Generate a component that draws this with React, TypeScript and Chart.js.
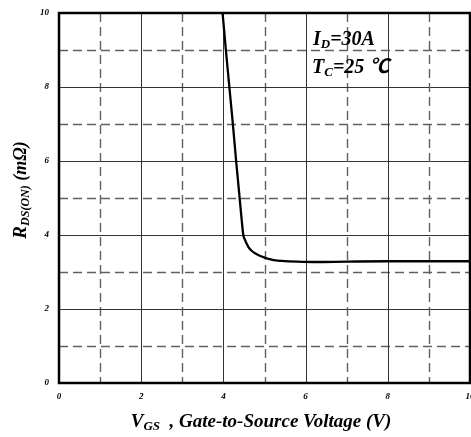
import React, { useEffect, useRef } from "react";
import { Chart, registerables } from "chart.js";

Chart.register(...registerables);

const vgs = [3.98, 4.06, 4.145, 4.23, 4.31, 4.395, 4.445, 4.484, 4.52, 4.56, 4.606, 4.68, 4.769, 4.87, 4.971, 5.1, 5.214, 5.418, 5.8, 6.2, 7.0, 8.0, 9.0, 10.0];
const rds = [10.0, 9.0, 8.0, 7.0, 6.0, 5.0, 4.41, 4.0, 3.88, 3.78, 3.68, 3.58, 3.505, 3.445, 3.4, 3.355, 3.32, 3.3, 3.28, 3.27, 3.28, 3.29, 3.29, 3.29];
const xTicks = [0, 2, 4, 6, 8, 10];
const yTicks = [0, 2, 4, 6, 8, 10];
const gridValues = [1, 2, 3, 4, 5, 6, 7, 8, 9];

const FAMILY = "'Liberation Serif', 'Times New Roman', 'Noto Sans CJK SC', serif";

type Seg = { text: string; size: number; dy: number };

function drawRich(ctx: CanvasRenderingContext2D, segs: Seg[], x: number, y: number, align: "left" | "center") {
  let total = 0;
  for (const s of segs) {
    ctx.font = `bold italic ${s.size}px ${FAMILY}`;
    total += ctx.measureText(s.text).width;
  }
  let cx = align === "center" ? x - total / 2 : x;
  ctx.textAlign = "left";
  ctx.textBaseline = "alphabetic";
  for (const s of segs) {
    ctx.font = `bold italic ${s.size}px ${FAMILY}`;
    ctx.fillText(s.text, cx, y + s.dy);
    cx += ctx.measureText(s.text).width;
  }
}

const customPlugin = {
  id: "custom",
  beforeDatasetsDraw(chart: any) {
    const ctx = chart.ctx as CanvasRenderingContext2D;
    const { left, right, top, bottom } = chart.chartArea;
    const xs = chart.scales.x;
    const ys = chart.scales.y;
    ctx.save();
    for (const v of gridValues) {
      const even = v % 2 === 0;
      ctx.strokeStyle = even ? "#333333" : "#606060";
      ctx.lineWidth = even ? 1 : 1.4;
      ctx.setLineDash(even ? [] : [9, 5]);
      const px = Math.round(xs.getPixelForValue(v)) + 0.5;
      ctx.beginPath();
      ctx.moveTo(px, top);
      ctx.lineTo(px, bottom);
      ctx.stroke();
      const py = Math.round(ys.getPixelForValue(v)) + 0.5;
      ctx.beginPath();
      ctx.moveTo(left, py);
      ctx.lineTo(right, py);
      ctx.stroke();
    }
    ctx.restore();
  },
  afterDatasetsDraw(chart: any) {
    const ctx = chart.ctx as CanvasRenderingContext2D;
    const { left, right, top, bottom } = chart.chartArea;
    ctx.save();
    ctx.strokeStyle = "#000";
    ctx.lineWidth = 2.5;
    ctx.setLineDash([]);
    ctx.strokeRect(left, top, right - left, bottom - top);
    ctx.fillStyle = "#000";
    drawRich(ctx, [
      { text: "I", size: 20, dy: 0 },
      { text: "D", size: 13, dy: 3 },
      { text: "=30A", size: 20, dy: 0 },
    ], 313, 45, "left");
    drawRich(ctx, [
      { text: "T", size: 20, dy: 0 },
      { text: "C", size: 13, dy: 3 },
      { text: "=25 ℃", size: 20, dy: 0 },
    ], 312, 73, "left");
    drawRich(ctx, [
      { text: "V", size: 19, dy: 0 },
      { text: "GS", size: 13, dy: 3 },
      { text: "  , Gate-to-Source Voltage (V)", size: 19, dy: 0 },
    ], 261, 427, "center");
    ctx.translate(26, 190);
    ctx.rotate(-Math.PI / 2);
    drawRich(ctx, [
      { text: "R", size: 19, dy: 0 },
      { text: "DS(ON)", size: 12, dy: 3 },
      { text: " (mΩ)", size: 18, dy: 0 },
    ], 0, 0, "center");
    ctx.restore();
  },
};

export default function App() {
  const ref = useRef<HTMLCanvasElement>(null);
  useEffect(() => {
    document.body.style.margin = "0";
    const canvas = ref.current!;
    const zeroPad = (s: any) => {
      s.paddingLeft = 0;
      s.paddingRight = 0;
      s.paddingTop = 0;
      s.paddingBottom = 0;
    };
    const chart = new Chart(canvas, {
      type: "line",
      data: {
        datasets: [
          {
            data: vgs.map((x, i) => ({ x, y: rds[i] })),
            borderColor: "#000",
            borderWidth: 2.3,
            pointRadius: 0,
            cubicInterpolationMode: "monotone",
            fill: false,
          },
        ],
      },
      options: {
        responsive: false,
        animation: false,
        events: [],
        layout: { padding: { top: 13, right: 1, left: 0, bottom: 0 } },
        plugins: { legend: { display: false }, tooltip: { enabled: false } },
        scales: {
          x: {
            type: "linear",
            min: 0,
            max: 10,
            afterFit: (s: any) => { s.height = 54; zeroPad(s); },
            afterBuildTicks: (s: any) => { s.ticks = xTicks.map((v) => ({ value: v })); },
            grid: { display: false, drawTicks: false },
            border: { display: false },
            ticks: {
              padding: 8,
              color: "#000",
              font: { family: FAMILY, size: 9, style: "italic", weight: "bold" },
              maxRotation: 0,
              autoSkip: false,
            },
          },
          y: {
            type: "linear",
            min: 0,
            max: 10,
            afterFit: (s: any) => { s.width = 59; zeroPad(s); },
            afterBuildTicks: (s: any) => { s.ticks = yTicks.map((v) => ({ value: v })); },
            grid: { display: false, drawTicks: false },
            border: { display: false },
            ticks: {
              padding: 10,
              color: "#000",
              font: { family: FAMILY, size: 9, style: "italic", weight: "bold" },
              autoSkip: false,
            },
          },
        },
      },
      plugins: [customPlugin],
    } as any);
    return () => chart.destroy();
  }, []);
  return (
    <div style={{ position: "absolute", left: 0, top: 0, width: 471, height: 437, background: "#fff" }}>
      <canvas ref={ref} width={471} height={437} />
    </div>
  );
}
